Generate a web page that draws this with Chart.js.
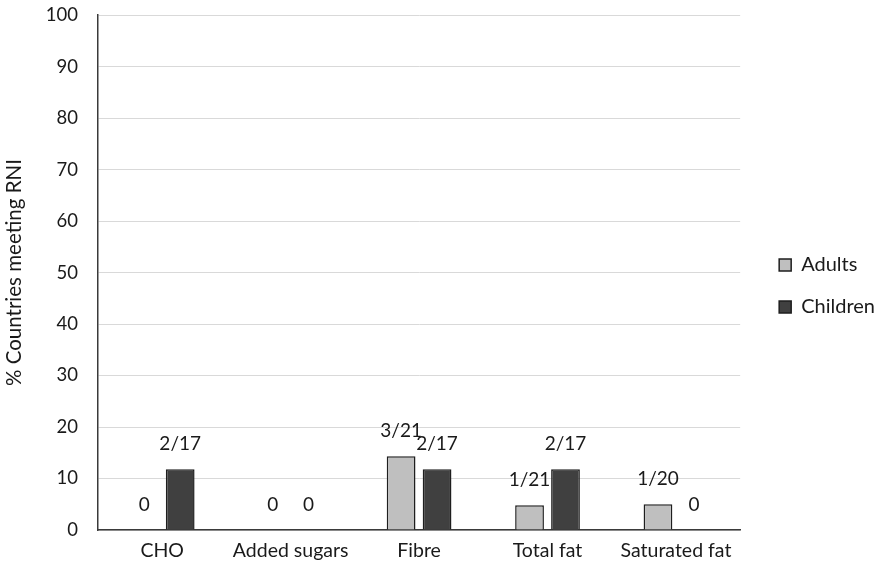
<!DOCTYPE html>
<html>
<head>
<meta charset="utf-8">
<script src="https://cdn.jsdelivr.net/npm/chart.js@4/dist/chart.umd.min.js"></script>
<style>
  html, body { margin: 0; padding: 0; background: #fff; }
  #wrap { width: 877px; height: 572px; }
</style>
</head>
<body>
<div id="wrap"><canvas id="chart"></canvas></div>
<script>
const categories = ['CHO', 'Added sugars', 'Fibre', 'Total fat', 'Saturated fat'];
const adults = [0, 0, 14.3, 4.8, 5.0];
const children = [11.8, 0, 11.8, 11.8, 0];
const adultLabels = ['0', '0', '3/21', '1/21', '1/20'];
const childLabels = ['2/17', '0', '2/17', '2/17', '0'];
const yTicks = [0, 10, 20, 30, 40, 50, 60, 70, 80, 90, 100];

const FONT = 'Lato, "Open Sans", sans-serif';

// draws the n/N text over each bar
const barLabels = {
  id: 'barLabels',
  afterDatasetsDraw(chart) {
    const ctx = chart.ctx;
    ctx.save();
    ctx.font = '19px ' + FONT;
    ctx.fillStyle = '#1a1a1a';
    ctx.textAlign = 'center';
    ctx.textBaseline = 'middle';
    chart.data.datasets.forEach((ds, i) => {
      chart.getDatasetMeta(i).data.forEach((bar, j) => {
        ctx.fillText(ds.valueLabels[j], bar.x, bar.y - 25);
      });
    });
    ctx.restore();
  }
};

new Chart(document.getElementById('chart'), {
  type: 'bar',
  data: {
    labels: categories,
    datasets: [
      { label: 'Adults', data: adults, valueLabels: adultLabels, backgroundColor: '#bfbfbf', borderColor: '#1e1e1e', borderWidth: 1.5 },
      { label: 'Children', data: children, valueLabels: childLabels, backgroundColor: '#404040', borderColor: '#1e1e1e', borderWidth: 1.5 }
    ]
  },
  options: {
    responsive: true,
    maintainAspectRatio: false,
    animation: false,
    categoryPercentage: 0.56,
    barPercentage: 0.8,
    layout: { padding: { top: 0, right: -8, left: 0, bottom: 0 } },
    plugins: {
      tooltip: { enabled: false },
      legend: {
        position: 'right',
        labels: {
          font: { family: FONT, size: 20 },
          color: '#1a1a1a',
          boxWidth: 12,
          boxHeight: 12,
          padding: 22
        }
      }
    },
    scales: {
      x: {
        afterFit(scale) { scale.height = 42; },
        grid: { display: false, drawTicks: false },
        border: { color: '#3a3a3a', width: 1.5 },
        ticks: { font: { family: FONT, size: 19.5 }, color: '#1a1a1a', padding: 9 }
      },
      y: {
        min: 0,
        max: 100,
        afterBuildTicks(scale) { scale.ticks = yTicks.map(v => ({ value: v })); },
        afterFit(scale) { scale.width = 98; },
        grid: { color: '#d9d9d9', tickColor: 'transparent', tickLength: 16 },
        border: { color: '#3a3a3a', width: 1.5 },
        ticks: { font: { family: FONT, size: 18.5 }, color: '#1a1a1a', padding: 4 },
        title: { display: true, text: '% Countries meeting RNI', font: { family: FONT, size: 20.5 }, color: '#1a1a1a', padding: { top: 2, bottom: 0 } }
      },
      // empty spacer between plot and legend
      gap: {
        position: 'right',
        afterFit(scale) { scale.width = 17; },
        grid: { display: false },
        border: { display: false },
        ticks: { display: false }
      }
    }
  },
  plugins: [barLabels]
});
</script>
</body>
</html>
